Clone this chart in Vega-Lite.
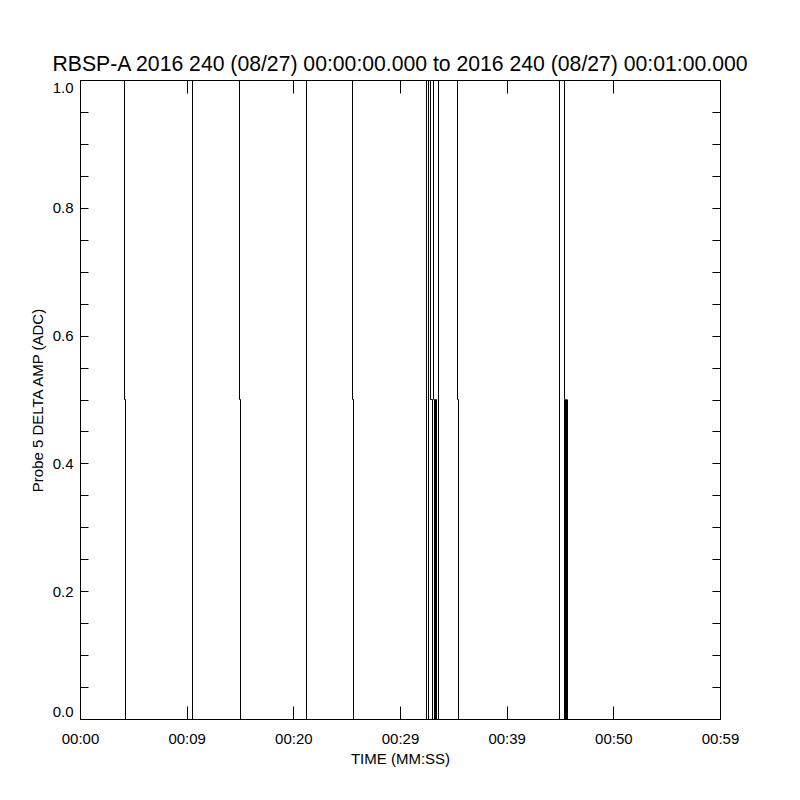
{
  "$schema": "https://vega.github.io/schema/vega-lite/v6.json",
  "autosize": "none",
  "width": 640,
  "height": 639,
  "padding": {"left": 80, "top": 80, "right": 80, "bottom": 81},
  "background": "white",
  "title": {
    "text": "RBSP-A 2016 240 (08/27) 00:00:00.000 to 2016 240 (08/27) 00:01:00.000",
    "font": "Liberation Sans",
    "fontSize": 21.2,
    "fontWeight": "normal",
    "color": "black",
    "anchor": "middle",
    "frame": "group",
    "offset": 3
  },
  "config": {
    "view": {"stroke": null},
    "axis": {
      "grid": false,
      "domainColor": "black",
      "tickColor": "black",
      "labelColor": "black",
      "titleColor": "black",
      "labelFont": "Liberation Sans",
      "titleFont": "Liberation Sans",
      "labelFontSize": 15,
      "titleFontSize": 15,
      "titleFontWeight": "normal",
      "domainWidth": 1,
      "tickWidth": 1
    }
  },
  "data": {
    "values": [
      {"seg": "A", "i": 1, "t": 4.172, "v": 1},
      {"seg": "A", "i": 2, "t": 4.172, "v": 0.5},
      {"seg": "A", "i": 3, "t": 4.266, "v": 0.5},
      {"seg": "A", "i": 4, "t": 4.266, "v": 0},
      {"seg": "B", "i": 1, "t": 10.547, "v": 1},
      {"seg": "B", "i": 2, "t": 10.547, "v": 0},
      {"seg": "C", "i": 1, "t": 14.953, "v": 1},
      {"seg": "C", "i": 2, "t": 14.953, "v": 0.5},
      {"seg": "C", "i": 3, "t": 15.047, "v": 0.5},
      {"seg": "C", "i": 4, "t": 15.047, "v": 0},
      {"seg": "D", "i": 1, "t": 21.234, "v": 1},
      {"seg": "D", "i": 2, "t": 21.234, "v": 0},
      {"seg": "E", "i": 1, "t": 25.547, "v": 1},
      {"seg": "E", "i": 2, "t": 25.547, "v": 0.5},
      {"seg": "E", "i": 3, "t": 25.641, "v": 0.5},
      {"seg": "E", "i": 4, "t": 25.641, "v": 0},
      {"seg": "F", "i": 1, "t": 32.484, "v": 1},
      {"seg": "F", "i": 2, "t": 32.484, "v": 0},
      {"seg": "G", "i": 1, "t": 32.672, "v": 1},
      {"seg": "G", "i": 2, "t": 32.672, "v": 0},
      {"seg": "H", "i": 1, "t": 32.859, "v": 1},
      {"seg": "H", "i": 2, "t": 32.859, "v": 0.5},
      {"seg": "H", "i": 3, "t": 33.047, "v": 0.5},
      {"seg": "H", "i": 4, "t": 33.047, "v": 0},
      {"seg": "I", "i": 1, "t": 33.141, "v": 1},
      {"seg": "I", "i": 2, "t": 33.141, "v": 0.5},
      {"seg": "I", "i": 3, "t": 33.234, "v": 0.5},
      {"seg": "I", "i": 4, "t": 33.234, "v": 0},
      {"seg": "I", "i": 5, "t": 33.328, "v": 0},
      {"seg": "I", "i": 6, "t": 33.328, "v": 0.5},
      {"seg": "I", "i": 7, "t": 33.422, "v": 0.5},
      {"seg": "I", "i": 8, "t": 33.422, "v": 0},
      {"seg": "J", "i": 1, "t": 33.609, "v": 1},
      {"seg": "J", "i": 2, "t": 33.609, "v": 0},
      {"seg": "K", "i": 1, "t": 35.391, "v": 1},
      {"seg": "K", "i": 2, "t": 35.391, "v": 0.5},
      {"seg": "K", "i": 3, "t": 35.484, "v": 0.5},
      {"seg": "K", "i": 4, "t": 35.484, "v": 0},
      {"seg": "L", "i": 1, "t": 44.953, "v": 1},
      {"seg": "L", "i": 2, "t": 44.953, "v": 0},
      {"seg": "M", "i": 1, "t": 45.422, "v": 1},
      {"seg": "M", "i": 2, "t": 45.422, "v": 0.5},
      {"seg": "M", "i": 3, "t": 45.422, "v": 0},
      {"seg": "M", "i": 4, "t": 45.516, "v": 0},
      {"seg": "M", "i": 5, "t": 45.516, "v": 0.5},
      {"seg": "M", "i": 6, "t": 45.609, "v": 0.5},
      {"seg": "M", "i": 7, "t": 45.609, "v": 0},
      {"seg": "M", "i": 8, "t": 45.703, "v": 0},
      {"seg": "M", "i": 9, "t": 45.703, "v": 0.5}
    ]
  },
  "layer": [
    {
      "mark": {"type": "line", "color": "black", "strokeWidth": 1, "clip": false},
      "encoding": {
        "x": {
          "field": "t", "type": "quantitative",
          "scale": {"domain": [0, 60], "nice": false, "zero": false},
          "axis": {
            "orient": "bottom",
            "values": [0, 10, 20, 30, 40, 50, 60],
            "labelExpr": "['00:00','00:09','00:20','00:29','00:39','00:50','00:59'][round(datum.value/10)]",
            "tickSize": -13,
            "labelPadding": 25,
            "labelFlush": false,
            "labelOverlap": false,
            "title": "TIME (MM:SS)",
            "titleBaseline": "middle",
            "titleY": 39
          }
        },
        "y": {
          "field": "v", "type": "quantitative",
          "scale": {"domain": [0, 1], "nice": false, "zero": false},
          "axis": {
            "orient": "left",
            "values": [0, 0.05, 0.1, 0.15, 0.2, 0.25, 0.3, 0.35, 0.4, 0.45, 0.5, 0.55, 0.6, 0.65, 0.7, 0.75, 0.8, 0.85, 0.9, 0.95, 1],
            "labelExpr": "round(datum.value*100) % 20 == 0 ? format(datum.value, '.1f') : ''",
            "tickSize": -8,
            "labelPadding": 15,
            "labelFlush": true,
            "labelOverlap": false,
            "title": "Probe 5 DELTA AMP (ADC)",
            "titleBaseline": "middle",
            "titleX": -43,
            "titleY": 320
          }
        },
        "detail": {"field": "seg"},
        "order": {"field": "i"}
      }
    },
    {
      "mark": {"type": "line", "opacity": 0},
      "encoding": {
        "x": {
          "field": "t", "type": "quantitative",
          "scale": {"domain": [0, 60], "nice": false, "zero": false},
          "axis": {
            "orient": "top",
            "values": [0, 10, 20, 30, 40, 50, 60],
            "labels": false,
            "tickSize": -13,
            "title": null
          }
        },
        "y": {
          "field": "v", "type": "quantitative",
          "scale": {"domain": [0, 1], "nice": false, "zero": false},
          "axis": {
            "orient": "right",
            "values": [0, 0.05, 0.1, 0.15, 0.2, 0.25, 0.3, 0.35, 0.4, 0.45, 0.5, 0.55, 0.6, 0.65, 0.7, 0.75, 0.8, 0.85, 0.9, 0.95, 1],
            "labels": false,
            "tickSize": -8,
            "title": null
          }
        },
        "detail": {"field": "seg"},
        "order": {"field": "i"}
      }
    }
  ],
  "resolve": {"axis": {"x": "independent", "y": "independent"}}
}
